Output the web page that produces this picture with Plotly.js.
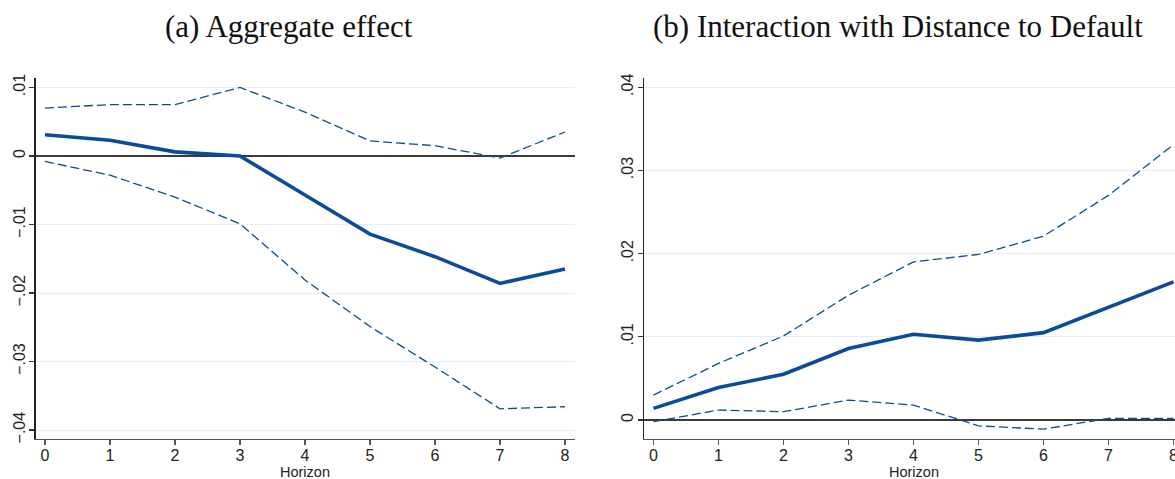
<!DOCTYPE html>
<html>
<head>
<meta charset="utf-8">
<script src="https://cdn.plot.ly/plotly-3.0.1.min.js"></script>
<style>
  html, body { margin: 0; padding: 0; background: #fff; overflow: hidden; }
  #chart { width: 1190px; height: 479px; }
</style>
</head>
<body>
<div id="chart"></div>
<script>
// Local projection impulse responses by horizon, with confidence bands
const horizon = [0, 1, 2, 3, 4, 5, 6, 7, 8];

// (a) Aggregate effect
const aggPoint = [0.0031, 0.0023, 0.0006, 0.0000, -0.0057, -0.0114, -0.0147, -0.0186, -0.0165];
const aggUpper = [0.0070, 0.0075, 0.0075, 0.0100, 0.0064, 0.0022, 0.0015, -0.0003, 0.0035];
const aggLower = [-0.0008, -0.0028, -0.0060, -0.0099, -0.0181, -0.0249, -0.0308, -0.0369, -0.0366];

// (b) Interaction with Distance to Default
const ddPoint = [0.0014, 0.0039, 0.0055, 0.0086, 0.0103, 0.0096, 0.0105, 0.0136, 0.0166];
const ddUpper = [0.0030, 0.0068, 0.0101, 0.0150, 0.0190, 0.0199, 0.0221, 0.0270, 0.0331];
const ddLower = [-0.0002, 0.0012, 0.0010, 0.0024, 0.0018, -0.0007, -0.0011, 0.0002, 0.0002];

// Tick labels
const aggTickVals = [-0.04, -0.03, -0.02, -0.01, 0, 0.01];
const aggTickText = ['\u2212.04', '\u2212.03', '\u2212.02', '\u2212.01', '0', '.01'];
const ddTickVals = [0, 0.01, 0.02, 0.03, 0.04];
const ddTickText = ['0', '.01', '.02', '.03', '.04'];

const panelTitles = ['(a) Aggregate effect', '(b) Interaction with Distance to Default'];
const xTitle = 'Horizon';

const LINE = '#0c4b97';
const W = 1190, H = 479;

function bandTrace(y, xa, ya) {
  return { x: horizon, y: y, xaxis: xa, yaxis: ya, type: 'scatter', mode: 'lines',
           line: { color: LINE, width: 1.3, dash: '9px,4px' }, hoverinfo: 'skip', showlegend: false };
}
function pointTrace(y, xa, ya) {
  return { x: horizon, y: y, xaxis: xa, yaxis: ya, type: 'scatter', mode: 'lines',
           line: { color: LINE, width: 3.6 }, showlegend: false };
}

const traces = [
  bandTrace(aggUpper, 'x', 'y'),
  bandTrace(aggLower, 'x', 'y'),
  pointTrace(aggPoint, 'x', 'y'),
  bandTrace(ddUpper, 'x2', 'y2'),
  bandTrace(ddLower, 'x2', 'y2'),
  pointTrace(ddPoint, 'x2', 'y2')
];

const tickFont = { family: '"Liberation Sans", Arial, sans-serif', size: 16, color: '#222' };

function xAxis(domain, anchor) {
  return {
    domain: domain, anchor: anchor, range: [-0.146, 8.154],
    tickvals: horizon, ticks: 'outside', ticklen: 5, tickwidth: 1.2, tickcolor: '#555',
    ticklabelstandoff: -4,
    showline: true, linecolor: '#555', linewidth: 1.3, showgrid: false, zeroline: false,
    tickfont: tickFont, fixedrange: true
  };
}
function yAxis(range, vals, text, anchor) {
  return {
    domain: [40 / H, 1 - 78.3 / H], anchor: anchor, range: range,
    tickvals: vals, ticktext: text, tickangle: -90,
    ticks: 'outside', ticklen: 5, tickwidth: 1.2, tickcolor: '#333',
    ticklabelstandoff: -2,
    showline: true, linecolor: '#222', linewidth: 1.3,
    showgrid: true, gridcolor: '#e7eef1', gridwidth: 1,
    zeroline: true, zerolinecolor: '#3a3a3a', zerolinewidth: 1.6,
    tickfont: tickFont, fixedrange: true
  };
}

const titleFont = { family: '"Liberation Serif", "Times New Roman", serif', size: 31, color: '#111' };
const labelFont = { family: '"Liberation Sans", Arial, sans-serif', size: 14.5, color: '#222' };

const layout = {
  width: W, height: H,
  margin: { l: 0, r: 0, t: 0, b: 0 },
  paper_bgcolor: '#fff', plot_bgcolor: '#fff',
  showlegend: false,
  xaxis: xAxis([35.5 / W, 575 / W], 'y'),
  yaxis: yAxis([-0.04131, 0.01134], aggTickVals, aggTickText, 'x'),
  xaxis2: xAxis([644 / W, 1183.5 / W], 'y2'),
  yaxis2: yAxis([-0.00228, 0.04107], ddTickVals, ddTickText, 'x2'),
  annotations: [
    { text: panelTitles[0], xref: 'paper', yref: 'paper', x: 288.5 / W, y: 1 - 27 / H,
      xanchor: 'center', yanchor: 'middle', showarrow: false, font: titleFont },
    { text: panelTitles[1], xref: 'paper', yref: 'paper', x: 898 / W, y: 1 - 27 / H,
      xanchor: 'center', yanchor: 'middle', showarrow: false, font: titleFont },
    { text: xTitle, xref: 'x domain', yref: 'paper', x: 0.5, y: 1 - 471.5 / H,
      xanchor: 'center', yanchor: 'middle', showarrow: false, font: labelFont },
    { text: xTitle, xref: 'x2 domain', yref: 'paper', x: 0.5, y: 1 - 471.5 / H,
      xanchor: 'center', yanchor: 'middle', showarrow: false, font: labelFont }
  ]
};

Plotly.newPlot('chart', traces, layout, { displayModeBar: false, staticPlot: true });
</script>
</body>
</html>
